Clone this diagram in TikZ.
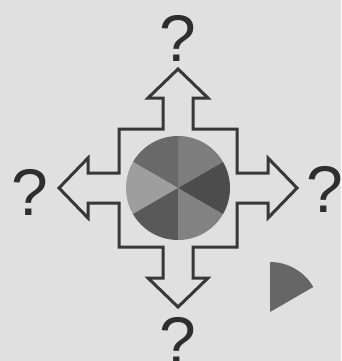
\documentclass[tikz,border=0pt]{standalone}
\usepackage{fontspec}
\setmainfont{Liberation Sans}
\begin{document}
\begin{tikzpicture}[x=1pt,y=-1pt,
  outline/.style={draw=black!78,line width=3pt,line join=miter,fill=none},
  qmark/.style={text=black!82,inner sep=0pt,anchor=base,font=\fontsize{66}{66}\selectfont}]
\fill[black!12] (0,0) rectangle (341,361);
\useasboundingbox (0,0) rectangle (341,361);
\coordinate (c) at (178,188);
% pie
\begin{scope}[shift={(c)},yscale=-1]
  \fill[black!51] (0,0) -- (30:52) arc[start angle=30,end angle=90,radius=52] -- cycle;
  \fill[black!59] (0,0) -- (90:52) arc[start angle=90,end angle=150,radius=52] -- cycle;
  \fill[black!38] (0,0) -- (150:52) arc[start angle=150,end angle=210,radius=52] -- cycle;
  \fill[black!65] (0,0) -- (210:52) arc[start angle=210,end angle=270,radius=52] -- cycle;
  \fill[black!49] (0,0) -- (270:52) arc[start angle=270,end angle=330,radius=52] -- cycle;
  \fill[black!70] (0,0) -- (330:52) arc[start angle=330,end angle=390,radius=52] -- cycle;
\end{scope}
% cross outline
\def\t{119}\def\h{90}\def\w{30}\def\s{15}\def\q{59}
\draw[outline,shift={(c)}]
  (0,-\t) -- (\w,-\h) -- (\s,-\h) -- (\s,-\q) -- (\q,-\q) -- (\q,-\s) -- (\h,-\s) -- (\h,-\w)
  -- (\t,0) -- (\h,\w) -- (\h,\s) -- (\q,\s) -- (\q,\q) -- (\s,\q) -- (\s,\h) -- (\w,\h)
  -- (0,\t) -- (-\w,\h) -- (-\s,\h) -- (-\s,\q) -- (-\q,\q) -- (-\q,\s) -- (-\h,\s) -- (-\h,\w)
  -- (-\t,0) -- (-\h,-\w) -- (-\h,-\s) -- (-\q,-\s) -- (-\q,-\q) -- (-\s,-\q) -- (-\s,-\h) -- (-\w,-\h)
  -- cycle;
% small sector
\begin{scope}[shift={(270,312)},yscale=-1]
  \fill[black!60] (0,0) -- (30:50) arc[start angle=30,end angle=90,radius=50] -- cycle;
\end{scope}
% question marks
\node[qmark] (qt) at (178,62) {?};
\node[qmark] (qb) at (178,363) {?};
\node[qmark] (ql) at (30,215) {?};
\node[qmark] (qr) at (325,212) {?};
\end{tikzpicture}
\end{document}
